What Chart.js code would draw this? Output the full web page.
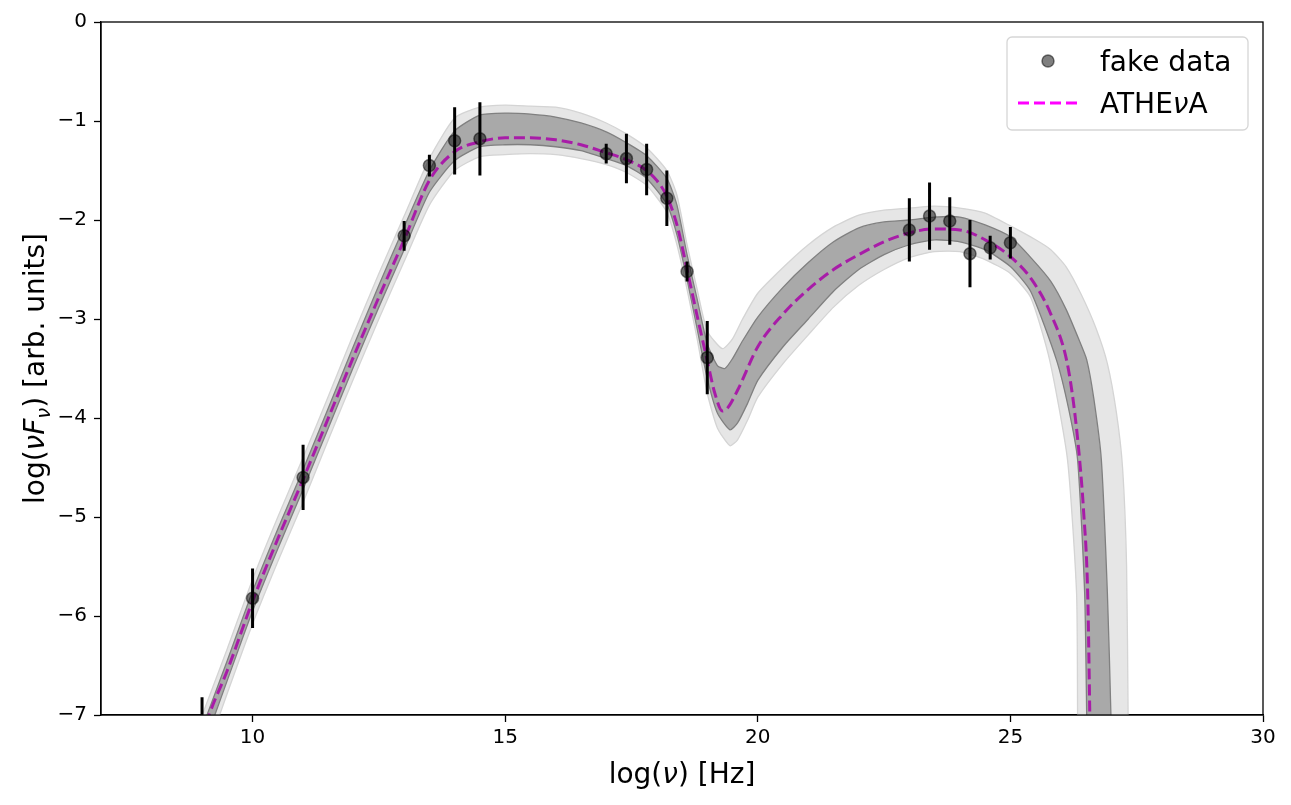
<!DOCTYPE html>
<html>
<head>
<meta charset="utf-8">
<script src="https://cdn.jsdelivr.net/npm/chart.js@4"></script>
<style>
html,body{margin:0;padding:0;background:#fff;}
#wrap{width:1291px;height:805px;position:relative;}
</style>
</head>
<body>
<div id="wrap"><canvas id="c"></canvas></div>
<script>
// ---------- data ----------
const xTicks = [10, 15, 20, 25, 30];
const yTicks = [0, -1, -2, -3, -4, -5, -6, -7];

const dataX   = [9, 10, 11, 13, 13.5, 14, 14.5, 17, 17.4, 17.8, 18.2, 18.6, 19, 23, 23.4, 23.8, 24.2, 24.6, 25];
const dataY   = [-7.12, -5.82, -4.6, -2.16, -1.45, -1.2, -1.18, -1.33, -1.38, -1.49, -1.78, -2.52, -3.39, -2.1, -1.96, -2.01, -2.34, -2.28, -2.23];
const dataErr = [0.3, 0.3, 0.33, 0.15, 0.11, 0.34, 0.37, 0.1, 0.25, 0.26, 0.28, 0.1, 0.37, 0.32, 0.34, 0.24, 0.34, 0.12, 0.16];

const modelX = [8.9, 9.14, 9.5, 10, 10.5, 11, 11.5, 12, 12.5, 13, 13.5, 14, 14.5, 15, 15.5, 16, 16.5, 17, 17.4, 17.8, 18.0, 18.2, 18.4, 18.6, 18.8, 19.0, 19.15, 19.3, 19.4, 19.6, 20, 20.5, 21, 21.5, 22, 22.5, 23, 23.5, 24, 24.5, 25, 25.42, 25.8, 26.11, 26.25, 26.37, 26.45, 26.53, 26.56, 26.58, 26.6];
const modelY = [-7.4, -7.0, -6.55, -5.85, -5.22, -4.62, -4.0, -3.38, -2.78, -2.2, -1.6, -1.31, -1.21, -1.17, -1.17, -1.19, -1.24, -1.32, -1.39, -1.5, -1.6, -1.76, -2.05, -2.5, -2.97, -3.42, -3.75, -3.93, -3.9, -3.72, -3.28, -2.95, -2.7, -2.5, -2.35, -2.22, -2.13, -2.09, -2.1, -2.2, -2.37, -2.6, -2.95, -3.41, -3.85, -4.42, -4.95, -5.77, -6.6, -7.3, -8];

const darkUpX = [8.9, 9.5, 10, 10.5, 11, 11.5, 12, 12.5, 13, 13.5, 14, 14.5, 15, 15.5, 16, 16.5, 17, 17.4, 17.8, 18.2, 18.4, 18.6, 18.8, 19.0, 19.2, 19.35, 19.5, 19.7, 20, 20.5, 21, 21.5, 22, 22.5, 23, 23.5, 24, 24.5, 25, 25.44, 25.8, 26.1, 26.35, 26.51, 26.65, 26.8, 26.92, 26.99, 27.02];
const darkUpY = [-7.27, -6.45, -5.75, -5.12, -4.52, -3.9, -3.27, -2.66, -2.07, -1.5, -1.1, -0.94, -0.92, -0.93, -0.96, -1.02, -1.11, -1.22, -1.35, -1.58, -1.85, -2.35, -2.8, -3.25, -3.47, -3.5, -3.4, -3.22, -2.98, -2.68, -2.43, -2.22, -2.08, -2.02, -2.0, -1.97, -1.97, -2.05, -2.17, -2.4, -2.62, -2.9, -3.2, -3.41, -3.8, -4.42, -5.77, -7.0, -8.0];
const darkLoX = [8.9, 9.5, 10, 10.5, 11, 11.5, 12, 12.5, 13, 13.5, 14, 14.5, 15, 15.5, 16, 16.5, 17, 17.4, 17.8, 18.2, 18.4, 18.6, 18.8, 19.0, 19.2, 19.45, 19.6, 19.8, 20, 20.5, 21, 21.5, 22, 22.5, 23, 23.5, 24, 24.5, 25, 25.4, 25.91, 26.15, 26.33, 26.47, 26.51, 26.53];
const darkLoY = [-7.5, -6.65, -5.95, -5.32, -4.72, -4.1, -3.48, -2.88, -2.3, -1.72, -1.4, -1.26, -1.24, -1.24, -1.26, -1.3, -1.38, -1.45, -1.58, -1.84, -2.15, -2.6, -3.1, -3.6, -3.95, -4.12, -4.05, -3.85, -3.62, -3.28, -3.0, -2.72, -2.5, -2.35, -2.25, -2.2, -2.22, -2.3, -2.47, -2.72, -3.41, -3.9, -4.42, -5.77, -7.0, -8.0];

const lightUpX = [8.9, 9.5, 10, 10.5, 11, 11.5, 12, 12.5, 13, 13.5, 14, 14.5, 15, 15.5, 16, 16.5, 17, 17.4, 17.8, 18.2, 18.4, 18.6, 18.8, 19.0, 19.3, 19.5, 19.7, 20, 20.5, 21, 21.5, 22, 22.5, 23, 23.5, 24, 24.5, 25, 25.5, 25.8, 26.1, 26.4, 26.7, 26.92, 27.1, 27.22, 27.3, 27.33, 27.35];
const lightUpY = [-7.14, -6.33, -5.63, -5.0, -4.4, -3.78, -3.15, -2.54, -1.96, -1.38, -0.97, -0.86, -0.84, -0.85, -0.86, -0.92, -1.02, -1.13, -1.27, -1.5, -1.75, -2.25, -2.7, -3.12, -3.3, -3.2, -3.0, -2.74, -2.48, -2.25, -2.07, -1.95, -1.9, -1.88, -1.86, -1.88, -1.93, -2.06, -2.2, -2.3, -2.47, -2.75, -3.1, -3.45, -3.95, -4.5, -5.5, -7.0, -8.0];
const lightLoX = [8.9, 9.5, 10, 10.5, 11, 11.5, 12, 12.5, 13, 13.5, 14, 14.5, 15, 15.5, 16, 16.5, 17, 17.4, 17.8, 18.2, 18.4, 18.6, 18.8, 19.0, 19.2, 19.45, 19.6, 19.8, 20, 20.5, 21, 21.5, 22, 22.5, 23, 23.5, 24, 24.5, 25, 25.4, 25.775, 26.13, 26.31, 26.33, 26.35];
const lightLoY = [-7.65, -6.78, -6.08, -5.45, -4.85, -4.22, -3.6, -3.0, -2.42, -1.85, -1.5, -1.36, -1.34, -1.33, -1.34, -1.38, -1.44, -1.52, -1.65, -1.92, -2.25, -2.7, -3.2, -3.75, -4.1, -4.28, -4.22, -4.02, -3.79, -3.45, -3.16, -2.88, -2.66, -2.5, -2.38, -2.32, -2.32, -2.4, -2.54, -2.78, -3.41, -4.42, -5.77, -7.0, -8.0];

// ---------- build datasets ----------
function pts(xs, ys) { return xs.map((x, i) => ({x: x, y: ys[i]})); }
function polygon(ux, uy, lx, ly) { return pts(ux, uy).concat(pts(lx, ly).reverse()); }
const errPts = [];
dataX.forEach((x, i) => {
  errPts.push({x: x, y: dataY[i] - dataErr[i]});
  errPts.push({x: x, y: dataY[i] + dataErr[i]});
  errPts.push({x: x, y: null});
});

const FONT = "'DejaVu Sans', sans-serif";
Chart.defaults.font.family = FONT;
Chart.defaults.color = '#000';

function drawRuns(ctx, runs, size, x, y, align) {
  let total = 0;
  runs.forEach(r => {
    const s = r.sub ? size * 0.7 : size;
    ctx.font = (r.it ? 'italic ' : '') + s + 'px ' + FONT;
    r.w = ctx.measureText(r.t).width;
    total += r.w;
  });
  let cx = align === 'center' ? x - total / 2 : x;
  runs.forEach(r => {
    const s = r.sub ? size * 0.7 : size;
    ctx.font = (r.it ? 'italic ' : '') + s + 'px ' + FONT;
    ctx.fillText(r.t, cx, y + (r.sub ? size * 0.2 : 0));
    cx += r.w;
  });
}

const decor = {
  id: 'decor',
  afterDraw(chart) {
    const ctx = chart.ctx, a = chart.chartArea;
    ctx.save();
    ctx.strokeStyle = '#000';
    ctx.lineWidth = 1.3;
    ctx.strokeRect(a.left, a.top, a.right - a.left, a.bottom - a.top);
    ctx.fillStyle = '#000';
    ctx.textBaseline = 'alphabetic';
    ctx.textAlign = 'left';
    drawRuns(ctx, [{t: 'log('}, {t: 'ν', it: true}, {t: ') [Hz]'}], 28, (a.left + a.right) / 2, 783, 'center');
    ctx.save();
    ctx.translate(44, (a.top + a.bottom) / 2);
    ctx.rotate(-Math.PI / 2);
    drawRuns(ctx, [{t: 'log('}, {t: 'νF', it: true}, {t: 'ν', it: true, sub: true}, {t: ') [arb. units]'}], 28, 0, 0, 'center');
    ctx.restore();
    // legend
    const bx = 1007, by = 37, bw = 241, bh = 93, r = 5;
    ctx.beginPath();
    ctx.moveTo(bx + r, by);
    ctx.arcTo(bx + bw, by, bx + bw, by + bh, r);
    ctx.arcTo(bx + bw, by + bh, bx, by + bh, r);
    ctx.arcTo(bx, by + bh, bx, by, r);
    ctx.arcTo(bx, by, bx + bw, by, r);
    ctx.closePath();
    ctx.fillStyle = 'rgba(255,255,255,0.8)';
    ctx.fill();
    ctx.strokeStyle = '#d6d6d6';
    ctx.lineWidth = 1.3;
    ctx.stroke();
    ctx.beginPath();
    ctx.arc(1048, 61, 6, 0, Math.PI * 2);
    ctx.fillStyle = 'rgba(0,0,0,0.5)';
    ctx.fill();
    ctx.strokeStyle = 'rgba(0,0,0,0.5)';
    ctx.lineWidth = 1.5;
    ctx.stroke();
    ctx.beginPath();
    ctx.setLineDash([11, 5]);
    ctx.moveTo(1018, 103);
    ctx.lineTo(1078, 103);
    ctx.strokeStyle = '#ff00ff';
    ctx.lineWidth = 3;
    ctx.stroke();
    ctx.setLineDash([]);
    ctx.fillStyle = '#000';
    drawRuns(ctx, [{t: 'fake data'}], 28, 1100, 71, 'left');
    drawRuns(ctx, [{t: 'ATHE'}, {t: 'ν', it: true}, {t: 'A'}], 28, 1100, 113, 'left');
    ctx.restore();
  }
};

new Chart(document.getElementById('c'), {
  type: 'scatter',
  data: {
    datasets: [
      {
        label: 'outer band',
        data: polygon(lightUpX, lightUpY, lightLoX, lightLoY),
        showLine: true, fill: 'shape', tension: 0.2,
        backgroundColor: 'rgb(230,230,230)', borderColor: 'rgb(212,212,212)', borderWidth: 1.3,
        pointRadius: 0, order: 5
      },
      {
        label: 'inner band',
        data: polygon(darkUpX, darkUpY, darkLoX, darkLoY),
        showLine: true, fill: 'shape', tension: 0.2,
        backgroundColor: 'rgb(169,169,169)', borderColor: 'rgb(128,128,128)', borderWidth: 1.3,
        pointRadius: 0, order: 4
      },
      {
        label: 'ATHEνA',
        data: pts(modelX, modelY),
        showLine: true, fill: false, cubicInterpolationMode: 'monotone',
        borderColor: '#a81ca8', borderWidth: 3, borderDash: [11, 5],
        pointRadius: 0, order: 3
      },
      {
        label: 'errors',
        data: errPts,
        showLine: true, spanGaps: false, fill: false,
        borderColor: '#000', borderWidth: 3,
        pointRadius: 0, order: 2
      },
      {
        label: 'fake data',
        data: pts(dataX, dataY),
        showLine: false,
        pointRadius: 6, pointHoverRadius: 6,
        backgroundColor: 'rgba(0,0,0,0.5)', borderColor: 'rgba(0,0,0,0.5)', borderWidth: 1.5,
        order: 1
      }
    ]
  },
  options: {
    responsive: true,
    maintainAspectRatio: false,
    animation: false,
    events: [],
    layout: { padding: { top: 22, right: 28, left: 0, bottom: 0 } },
    plugins: { legend: { display: false }, tooltip: { enabled: false } },
    scales: {
      x: {
        type: 'linear', min: 7, max: 30,
        afterBuildTicks: s => { s.ticks = xTicks.map(v => ({value: v})); },
        afterFit: s => { s.height = 90; },
        ticks: { font: { size: 20 }, color: '#000', padding: 4, maxRotation: 0, autoSkip: false,
                 callback: v => String(v).replace('-', '\u2212') },
        grid: { drawOnChartArea: false, drawTicks: true, tickLength: 7, tickColor: '#000', tickWidth: 1.3 },
        border: { display: true, color: '#000', width: 1.3 }
      },
      y: {
        type: 'linear', min: -7, max: 0,
        afterBuildTicks: s => { s.ticks = yTicks.map(v => ({value: v})); },
        afterFit: s => { s.width = 101; },
        ticks: { font: { size: 20 }, color: '#000', padding: 7, autoSkip: false,
                 callback: v => String(v).replace('-', '\u2212') },
        grid: { drawOnChartArea: false, drawTicks: true, tickLength: 7, tickColor: '#000', tickWidth: 1.3 },
        border: { display: true, color: '#000', width: 1.3 }
      }
    }
  },
  plugins: [decor]
});
</script>
</body>
</html>
